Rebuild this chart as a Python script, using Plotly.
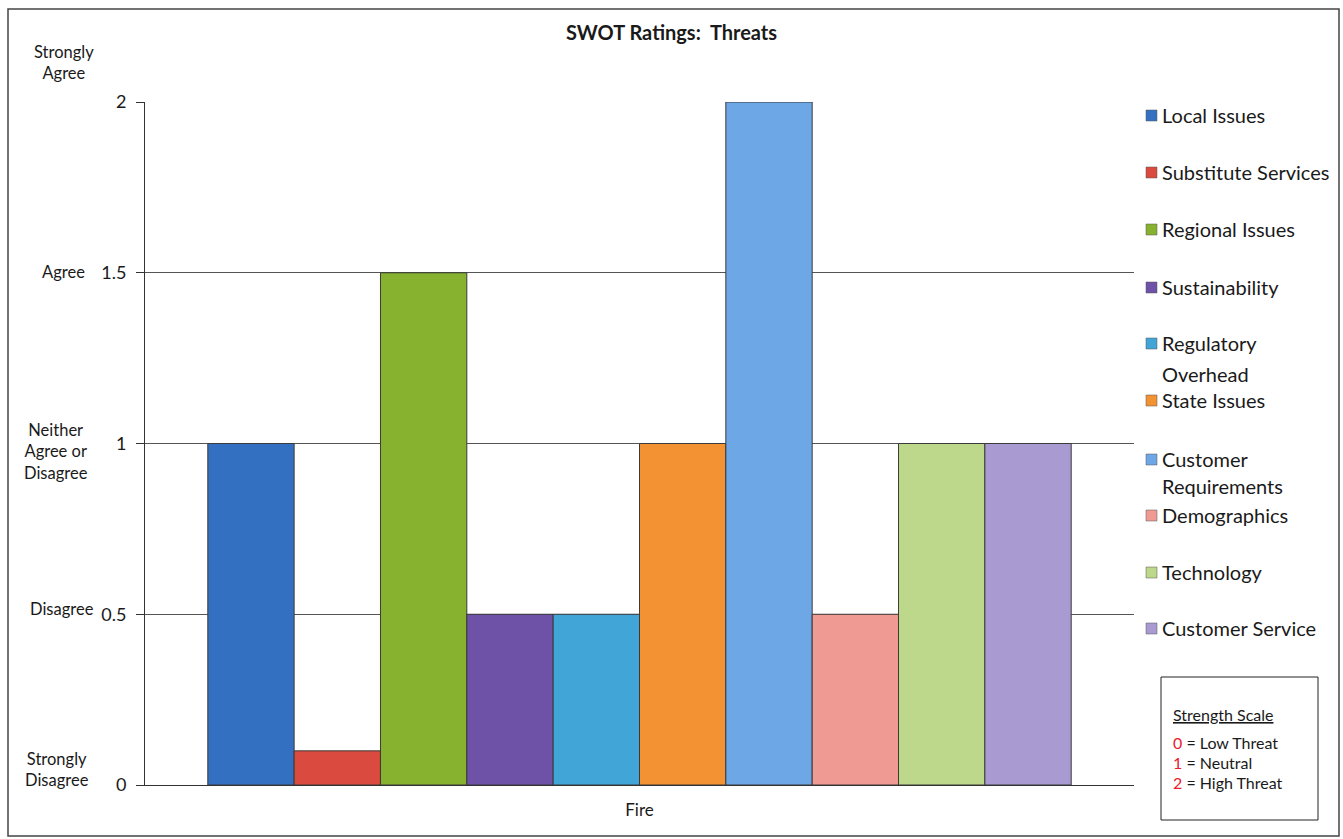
import plotly.graph_objects as go

# ---- data -------------------------------------------------------------
category = ["Fire"]
threats = [
    "Local Issues", "Substitute Services", "Regional Issues", "Sustainability",
    "Regulatory Overhead", "State Issues", "Customer Requirements",
    "Demographics", "Technology", "Customer Service",
]
ratings = [1.0, 0.1, 1.5, 0.5, 0.5, 1.0, 2.0, 0.5, 1.0, 1.0]
colors = [
    "#3470C2", "#DA4A3E", "#87B22F", "#6E52A8", "#41A5D7",
    "#F29232", "#6EA7E6", "#F09A94", "#BDD88B", "#A99BD1",
]
tick_values = [0, 0.5, 1, 1.5, 2]
tick_text = ["0", "0.5", "1", "1.5", "2"]
scale_words = ["Strongly<br>Disagree", "Disagree", "Neither<br>Agree or<br>Disagree",
               "Agree", "Strongly<br>Agree"]
scale_key = [("0", "Low Threat"), ("1", "Neutral"), ("2", "High Threat")]

# ---- layout geometry (pixels) ------------------------------------------
W, H = 1343, 839
L, R, T, B = 145, 1134, 102, 785
FONT = "Lato"


def px(x):
    return (x - L) / (R - L)


def py(y):
    return (B - y) / (B - T)


fig = go.Figure()
for name, val, col in zip(threats, ratings, colors):
    fig.add_trace(go.Bar(
        x=category, y=[val], name=name,
        marker=dict(color=col, line=dict(color="#3a3a3a", width=1)),
        showlegend=False,
    ))

annotations = []
shapes = []

# legend drawn at the right side, one row per series
legend_rows = [115, 172, 229, 287, 343, 400, 459, 515, 572, 628]
wrapped = {"Regulatory Overhead": ["Regulatory", "Overhead"],
           "Customer Requirements": ["Customer", "Requirements"]}
wrap_gap = {"Regulatory Overhead": 31, "Customer Requirements": 27}
for name, col, yrow in zip(threats, colors, legend_rows):
    shapes.append(dict(type="rect", xref="paper", yref="paper",
                       x0=px(1146), x1=px(1157), y0=py(yrow + 6), y1=py(yrow - 5),
                       fillcolor=col, line=dict(color="#555", width=0.5)))
    lines = wrapped.get(name, [name])
    for i, ln in enumerate(lines):
        annotations.append(dict(
            text=ln, xref="paper", yref="paper", x=px(1160),
            y=py(yrow + i * wrap_gap.get(name, 0)),
            xanchor="left", yanchor="middle", showarrow=False,
            font=dict(family=FONT, size=20, color="#1a1a1a")))

# verbal scale next to the numeric ticks
word_pos = [(57, 769), (62, 609), (56, 451), (63, 272), (64, 62)]
for txt, (xw, yw) in zip(scale_words, word_pos):
    annotations.append(dict(
        text=txt, xref="paper", yref="paper", x=px(xw), y=py(yw),
        xanchor="center", yanchor="middle", showarrow=False, align="center",
        font=dict(family=FONT, size=16.5, color="#1a1a1a")))

# strength scale key box
shapes.append(dict(type="rect", xref="paper", yref="paper",
                   x0=px(1161), x1=px(1318), y0=py(820), y1=py(677),
                   line=dict(color="#222", width=1), fillcolor="white"))
annotations.append(dict(
    text="<u>Strength Scale</u>", xref="paper", yref="paper", x=px(1171), y=py(714),
    xanchor="left", yanchor="middle", showarrow=False,
    font=dict(family=FONT, size=16, color="#1a1a1a")))
for i, (num, desc) in enumerate(scale_key):
    annotations.append(dict(
        text=f"<span style='color:#E8202A'>{num}</span> = {desc}",
        xref="paper", yref="paper", x=px(1171), y=py(742 + i * 20),
        xanchor="left", yanchor="middle", showarrow=False,
        font=dict(family=FONT, size=16, color="#1a1a1a")))

# outer frame
shapes.append(dict(type="rect", xref="paper", yref="paper",
                   x0=px(8), x1=px(1339), y0=py(836), y1=py(9),
                   line=dict(color="#444", width=1.5), layer="below"))

fig.update_layout(
    width=W, height=H, autosize=False,
    margin=dict(l=L, r=W - R, t=T, b=H - B, pad=0),
    paper_bgcolor="white", plot_bgcolor="white",
    barmode="group", bargap=0.127, bargroupgap=0,
    font=dict(family=FONT, color="#1a1a1a"),
    title=dict(text="<b>SWOT Ratings:  Threats</b>", x=0.5, xref="container",
               xanchor="center", y=1 - 33 / H, yanchor="middle",
               font=dict(family=FONT, size=20, color="#1a1a1a")),
    xaxis=dict(showgrid=False, showline=True, linecolor="#333", linewidth=1,
               ticks="", tickfont=dict(family=FONT, size=17), ticklabelstandoff=10,
               fixedrange=True),
    yaxis=dict(range=[0, 2], tickvals=tick_values, ticktext=tick_text,
               showgrid=True, gridcolor="#555", gridwidth=1,
               showline=True, linecolor="#333", linewidth=1,
               ticks="outside", ticklen=8, tickcolor="#333",
               tickfont=dict(family=FONT, size=18), ticklabelstandoff=6,
               zeroline=False, fixedrange=True),
    annotations=annotations, shapes=shapes,
)

fig.write_html("out.html")
